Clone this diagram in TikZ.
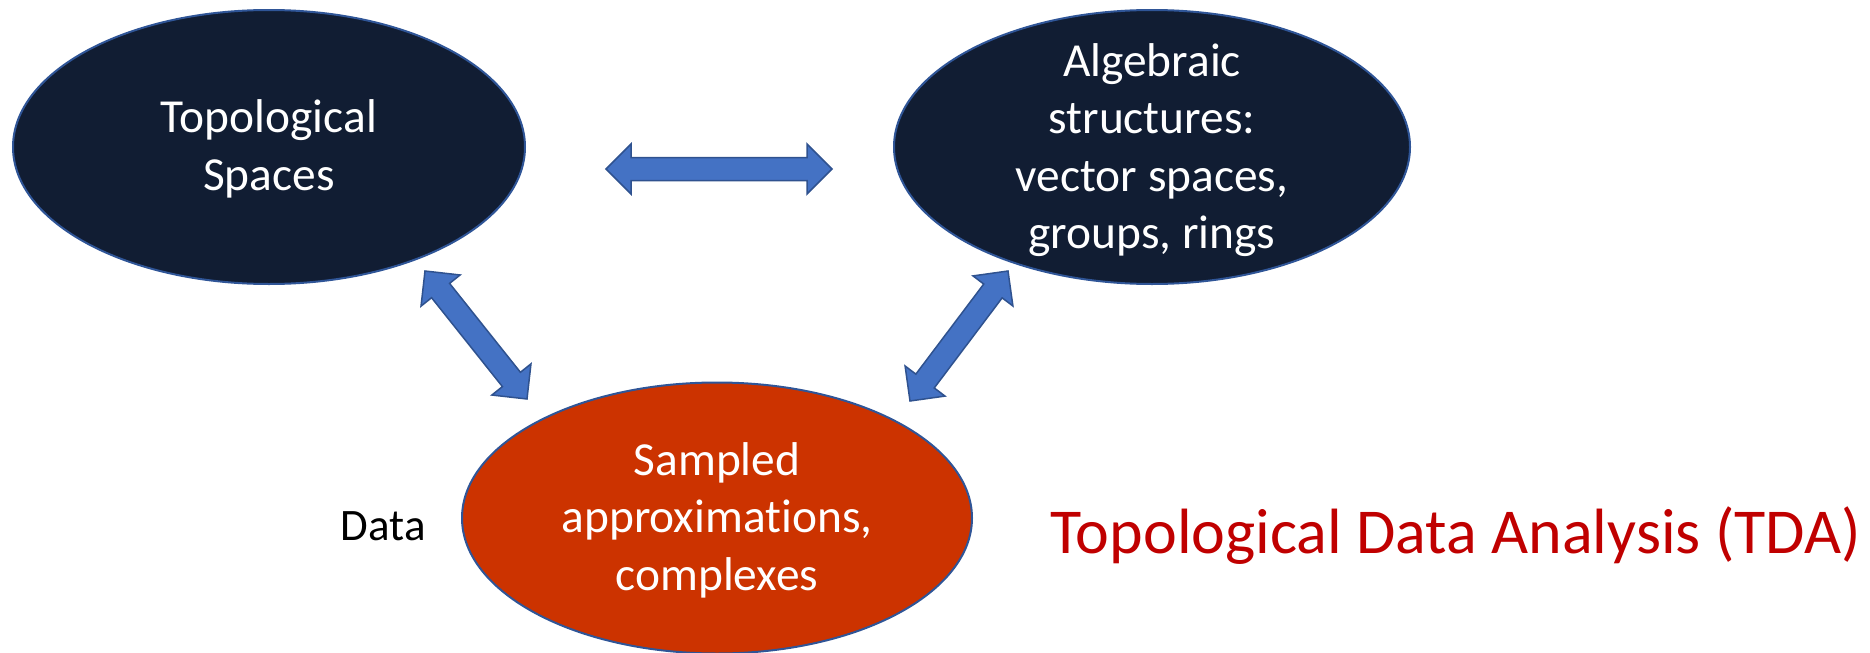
\documentclass[tikz,border=0pt]{standalone}
\usepackage{fontspec}
\setmainfont[Ligatures=NoCommon]{Carlito}
\usetikzlibrary{shapes.geometric,calc}
\definecolor{navy}{HTML}{111D33}
\definecolor{rimblue}{HTML}{2F5597}
\definecolor{brick}{HTML}{CC3300}
\definecolor{arrowfill}{HTML}{4472C4}
\definecolor{arrowrim}{HTML}{2F528F}
\definecolor{tdared}{HTML}{C00000}
\newcommand\dblarrow[2]{%
  \filldraw[barrow] (#1)
   -- ($(#1)!12.5pt!(#2)!12.5pt!90:(#2)$)
   -- ($(#1)!12.5pt!(#2)!5.75pt!90:(#2)$)
   -- ($(#2)!12.5pt!(#1)!5.75pt!-90:(#1)$)
   -- ($(#2)!12.5pt!(#1)!12.5pt!-90:(#1)$)
   -- (#2)
   -- ($(#2)!12.5pt!(#1)!12.5pt!90:(#1)$)
   -- ($(#2)!12.5pt!(#1)!5.75pt!90:(#1)$)
   -- ($(#1)!12.5pt!(#2)!5.75pt!-90:(#2)$)
   -- ($(#1)!12.5pt!(#2)!12.5pt!-90:(#2)$)
   -- cycle;}
\tikzset{
  blob/.style={ellipse, draw=rimblue, line width=1pt, inner sep=0pt, minimum height=137pt},
  darkblob/.style={blob, fill=navy},
  redblob/.style={blob, fill=brick},
  intext/.style={text=white, align=center, font=\fontsize{23.7}{28.7}\selectfont, inner sep=0pt},
  barrow/.style={fill=arrowfill, draw=arrowrim, line width=0.75pt, line join=miter},
}
\begin{document}
\begin{tikzpicture}[x=0.5pt,y=-0.5pt]
\useasboundingbox (0,0) rectangle (1870,653);
\node[darkblob, minimum width=256pt] (topo) at (269,147) {};
\node[darkblob, minimum width=258pt] (alg) at (1152,147) {};
\node[redblob, minimum width=255pt, minimum height=135.5pt] (samp) at (717,518) {};
\node[intext] (topot) at ($(topo)+(0,2)$) {Topological\\Spaces};
\node[intext] (algt) at ($(alg)+(0,3)$) {Algebraic\\structures:\\vector spaces,\\groups, rings};
\node[intext] (sampt) at ($(samp)+(0,2)$) {Sampled\\approximations,\\complexes};
\node[anchor=base east, inner sep=0pt, font=\fontsize{22.5}{27}\selectfont] (data) at (426,540) {Data};
\node[anchor=base west, inner sep=0pt, text=tdared, font=\fontsize{32}{38}\selectfont] (tda) at (1050,553) {Topological Data Analysis (TDA)};
\coordinate (h1) at (606,169);
\coordinate (h2) at (832,169);
\coordinate (l1) at (425,271);
\coordinate (l2) at (527,399);
\coordinate (r1) at (1008,271);
\coordinate (r2) at (910,401);
\dblarrow{h1}{h2}
\dblarrow{l1}{l2}
\dblarrow{r1}{r2}
\end{tikzpicture}
\end{document}
